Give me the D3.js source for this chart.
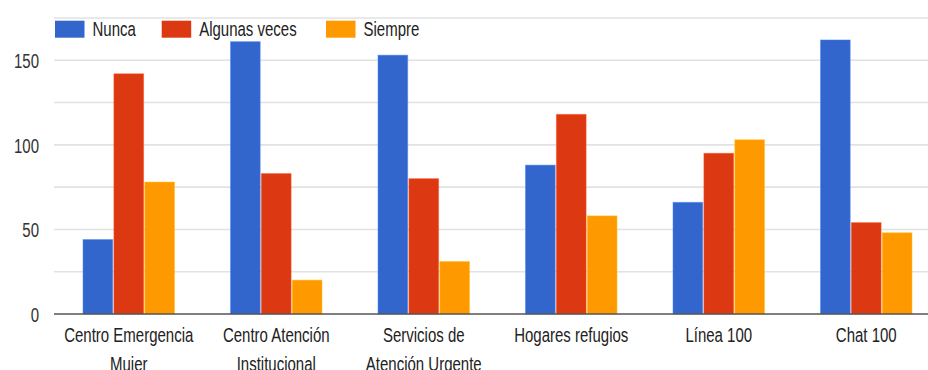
<!DOCTYPE html>
<html>
<head>
<meta charset="utf-8">
<script src="https://cdn.jsdelivr.net/npm/d3@7"></script>
<style>
  html, body { margin: 0; padding: 0; background: #fff; }
  svg { display: block; font-family: "Liberation Sans", Arial, sans-serif; }
</style>
</head>
<body>
<svg id="chart" width="928" height="370"></svg>
<script>
const categories = [
  ["Centro Emergencia", "Mujer"],
  ["Centro Atención", "Institucional"],
  ["Servicios de", "Atención Urgente"],
  ["Hogares refugios"],
  ["Línea 100"],
  ["Chat 100"]
];
const seriesNames = ["Nunca", "Algunas veces", "Siempre"];
const nunca = [44, 161, 153, 88, 66, 162];
const algunasVeces = [142, 83, 80, 118, 95, 54];
const siempre = [78, 20, 31, 58, 103, 48];
const yTicks = [0, 50, 100, 150];
const gridTicks = [0, 25, 50, 75, 100, 125, 150, 175];
const colors = ["#3366cc", "#dc3912", "#ff9900"];

const series = [nunca, algunasVeces, siempre];
const catKeys = categories.map(c => c.join(" "));

const svg = d3.select("#chart");
const SY = 1.3; // vertical text stretch seen in reference

const x0 = d3.scaleBand().domain(catKeys).range([55, 940]).padding(0);
const bw = x0.bandwidth();
const x1 = d3.scaleBand().domain(seriesNames)
  .range([bw * 0.19, bw * 0.81]).paddingInner(0.04);
const y = d3.scaleLinear().domain([0, 175]).range([314, 18]);

// gridlines
svg.append("g").selectAll("line").data(gridTicks.filter(d => d > 0)).join("line")
  .attr("x1", 54).attr("x2", 928)
  .attr("y1", d => y(d)).attr("y2", d => y(d))
  .attr("stroke", "#e2e2e2").attr("stroke-width", 1.6);

// bars
const groups = svg.append("g").selectAll("g").data(catKeys).join("g")
  .attr("transform", d => `translate(${x0(d)},0)`);
groups.selectAll("rect")
  .data((d, i) => seriesNames.map((s, j) => ({ s, v: series[j][i], c: colors[j] })))
  .join("rect")
  .attr("x", d => x1(d.s))
  .attr("width", x1.bandwidth())
  .attr("y", d => y(d.v))
  .attr("height", d => y(0) - y(d.v))
  .attr("fill", d => d.c)
  .attr("stroke", d => d3.color(d.c).brighter(0.6))
  .attr("stroke-opacity", 0.5)
  .attr("stroke-width", 1);

// baseline
svg.append("line").attr("x1", 54).attr("x2", 928)
  .attr("y1", y(0)).attr("y2", y(0))
  .attr("stroke", "#555").attr("stroke-width", 1.6);

// y labels
svg.append("g").selectAll("g").data(yTicks).join("g")
  .attr("transform", d => `translate(39,${y(d) + 7.8}) scale(1,${SY})`)
  .append("text")
  .attr("text-anchor", "end")
  .attr("font-size", 15)
  .attr("fill", "#333")
  .text(d => d);

// x labels
const xl = svg.append("g").selectAll("g").data(categories).join("g")
  .attr("transform", (d, i) => `translate(${x0(catKeys[i]) + bw / 2},0)`);
xl.each(function (lines) {
  const g = d3.select(this);
  lines.forEach((t, k) => {
    g.append("g")
      .attr("transform", `translate(0,${342.3 + k * 28.6}) scale(1,${SY})`)
      .append("text")
      .attr("text-anchor", "middle")
      .attr("font-size", 15)
      .attr("fill", "#222")
      .text(t);
  });
});

// legend
const legendX = [55, 161.7, 326];
const lg = svg.append("g").selectAll("g").data(seriesNames).join("g")
  .attr("transform", (d, i) => `translate(${legendX[i]},0)`);
lg.append("rect")
  .attr("x", 0).attr("y", 20.7).attr("width", 29.5).attr("height", 17)
  .attr("fill", (d, i) => colors[i]);
lg.append("g")
  .attr("transform", `translate(37.5,35.6) scale(1,${SY})`)
  .append("text")
  .attr("font-size", 15)
  .attr("fill", "#222")
  .text(d => d);
</script>
</body>
</html>
